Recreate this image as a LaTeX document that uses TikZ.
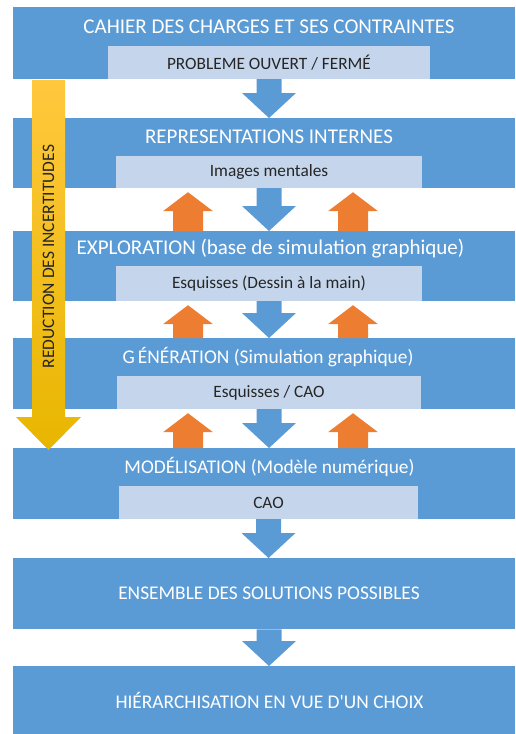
\documentclass[tikz,border=0pt]{standalone}
\usepackage{fontspec}
\setmainfont{Carlito}[Ligatures=TeXOff]
\usetikzlibrary{calc}
\definecolor{bandblue}{HTML}{5B9BD5}
\definecolor{lightbox}{HTML}{C5D6EC}
\definecolor{orangearrow}{HTML}{ED7D31}
\definecolor{yellowtop}{HTML}{FFC83D}
\definecolor{yellowbot}{HTML}{E8B600}
\definecolor{darktext}{HTML}{262626}
\tikzset{
  band/.style={fill=bandblue, draw=none, anchor=north west, minimum width=502pt, inner sep=0pt},
  title/.style={text=white, font=\fontsize{19.4}{22}\selectfont, inner sep=0pt},
  bigtitle/.style={title, font=\fontsize{21}{24}\selectfont},
  lbox/.style={fill=lightbox, draw=none, text=darktext, font=\fontsize{17.3}{20}\selectfont, inner sep=0pt},
}
% blue block arrow pointing down: #1 start (top), #2 tip
\newcommand\downblock[2]{%
  \fill[bandblue] let \p1=(#1), \p2=(#2) in
    (\x1-12.5pt,\y1) -- (\x1+12.5pt,\y1) -- (\x1+12.5pt,\y2+25pt) -- (\x1+27pt,\y2+25pt)
    -- (\x1,\y2) -- (\x1-27pt,\y2+25pt) -- (\x1-12.5pt,\y2+25pt) -- cycle;}
% orange block arrow pointing up: #1 start (bottom), #2 tip
\newcommand\upblock[2]{%
  \fill[orangearrow] let \p1=(#1), \p2=(#2) in
    (\x1-15pt,\y1) -- (\x1+15pt,\y1) -- (\x1+15pt,\y2-4pt-19pt) -- (\x1+25pt,\y2-4pt-19pt)
    -- (\x1,\y2-4pt) -- (\x1-25pt,\y2-4pt-19pt) -- (\x1-15pt,\y2-4pt-19pt) -- cycle;}
\begin{document}
\begin{tikzpicture}[x=1pt,y=-1pt]
\useasboundingbox (0,0) rectangle (515,734);
% bands
\node[band, minimum height=72pt] (b1) at (13,7) {};
\node[band, minimum height=70pt] (b2) at (13,118) {};
\node[band, minimum height=70pt] (b3) at (13,231) {};
\node[band, minimum height=71pt] (b4) at (13,338) {};
\node[band, minimum height=71pt] (b5) at (13,448) {};
\node[band, minimum height=71pt] (b6) at (13,558) {};
\node[band, minimum height=68pt] (b7) at (13,666) {};
% light boxes
\node[lbox, minimum width=322pt, minimum height=33pt] (l1) at (269,62.5) {PROBLEME OUVERT / FERMÉ};
\node[lbox, minimum width=306pt, minimum height=32pt] (l2) at (269,172) {Images mentales};
\node[lbox, minimum width=306pt, minimum height=35pt] (l3) at (269,283.5) {Esquisses (Dessin à la main)};
\node[lbox, minimum width=304pt, minimum height=33pt] (l4) at (269,392.5) {Esquisses / CAO};
\node[lbox, minimum width=299pt, minimum height=33pt] (l5) at (268.5,502.5) {CAO};
% titles
\node[bigtitle] (t1) at (269,26.5) {CAHIER DES CHARGES ET SES CONTRAINTES};
\node[bigtitle] (t2) at (269,137) {REPRESENTATIONS INTERNES};
\node[bigtitle] (t3) at (270.5,248.5) {EXPLORATION (base de simulation graphique)};
\node[title] (t4) at (268,357) {G\,ÉNÉRATION (Simulation graphique)};
\node[title] (t5) at (269.5,467) {MODÉLISATION (Modèle numérique)};
\node[title] (t6) at (269,593.5) {ENSEMBLE DES SOLUTIONS POSSIBLES};
\node[title] (t7) at (269.5,700) {HIÉRARCHISATION EN VUE D'UN CHOIX};
% blue down arrows
\downblock{l1.south}{l1.south |- b2.north}
\downblock{l2.south}{l2.south |- b3.north}
\downblock{l3.south}{l3.south |- b4.north}
\downblock{l4.south}{l4.south |- b5.north}
\downblock{l5.south}{l5.south |- b6.north}
\downblock{t6 |- b6.south}{t6 |- b7.north}
% orange up arrows
\coordinate (oL) at (188,0);
\coordinate (oR) at (353,0);
\upblock{oL |- b3.north}{oL |- l2.south}
\upblock{oR |- b3.north}{oR |- l2.south}
\upblock{oL |- b4.north}{oL |- l3.south}
\upblock{oR |- b4.north}{oR |- l3.south}
\upblock{oL |- b5.north}{oL |- l4.south}
\upblock{oR |- b5.north}{oR |- l4.south}
% yellow arrow
\coordinate (yTop) at (48.5,80);
\coordinate (yTip) at (48.5,450);
\shade[top color=yellowtop, bottom color=yellowbot] let \p1=(yTop), \p2=(yTip) in
  (\x1-16.5pt,\y1) -- (\x1+16.5pt,\y1) -- (\x1+16.5pt,\y2+33pt) -- (\x1+32.5pt,\y2+33pt)
  -- (\x1,\y2) -- (\x1-32.5pt,\y2+33pt) -- (\x1-16.5pt,\y2+33pt) -- cycle;
\node[rotate=90, text=darktext, font=\fontsize{17.5}{20}\selectfont, inner sep=0pt] (ytext) at (48.5,256.5) {REDUCTION DES INCERTITUDES};
\end{tikzpicture}
\end{document}
